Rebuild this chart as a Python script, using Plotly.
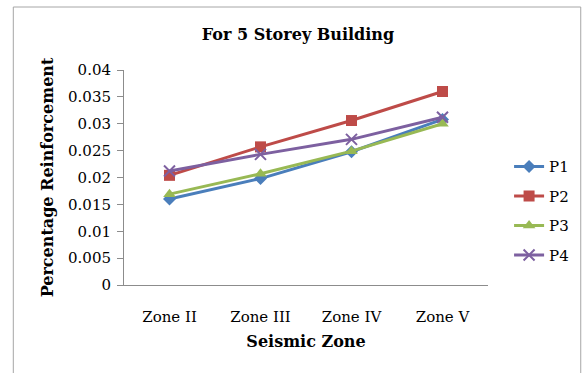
import plotly.graph_objects as go

zones = ["Zone II", "Zone III", "Zone IV", "Zone V"]
p1 = [0.0160, 0.0198, 0.0248, 0.0308]
p2 = [0.0204, 0.0257, 0.0306, 0.0360]
p3 = [0.0169, 0.0207, 0.0249, 0.0300]
p4 = [0.0212, 0.0243, 0.0271, 0.0312]
y_ticks = [0, 0.005, 0.01, 0.015, 0.02, 0.025, 0.03, 0.035, 0.04]
y_tick_text = ["0", "0.005", "0.01", "0.015", "0.02", "0.025", "0.03", "0.035", "0.04"]

series = [
    ("P1", p1, "#4A7EBB", "diamond", 10),
    ("P2", p2, "#BE4B48", "square", 11),
    ("P3", p3, "#98B954", "triangle-up", 11),
    ("P4", p4, "#7D60A0", "x-thin", 11),
]

SERIF = "DejaVu Serif"

fig = go.Figure()
for i, (name, vals, color, sym, size) in enumerate(series):
    marker = dict(symbol=sym, size=size, color=color)
    if sym == "x-thin":
        marker["line"] = dict(color=color, width=2)
    fig.add_trace(go.Scatter(
        x=zones, y=vals, name=name, mode="lines+markers",
        line=dict(color=color, width=3), marker=marker,
        legendgroup=f"g{i}",
    ))

fig.update_layout(
    width=585, height=373,
    margin=dict(l=124, r=96, t=70, b=88),
    paper_bgcolor="white", plot_bgcolor="white",
    showlegend=True,
    legend=dict(
        x=1.055, y=0.345, xanchor="left", yanchor="middle",
        font=dict(family=SERIF, size=15, color="black"),
        tracegroupgap=7, itemwidth=30,
        bgcolor="rgba(0,0,0,0)",
    ),
    title=dict(
        text="<b>For 5 Storey Building</b>",
        font=dict(family=SERIF, size=16, color="black"),
        x=298 / 585, xanchor="center",
        y=1 - 34 / 373, yanchor="middle",
    ),
    xaxis=dict(
        type="category", range=[-0.5, 3.5],
        showline=True, linecolor="#8c8c8c", linewidth=1,
        showgrid=False, ticks="", zeroline=False,
        tickfont=dict(family=SERIF, size=15, color="black"),
        ticklabelstandoff=18,
        title=dict(text="<b>Seismic Zone</b>",
                   font=dict(family=SERIF, size=16, color="black"),
                   standoff=10),
    ),
    yaxis=dict(
        range=[0, 0.04], tickvals=y_ticks, ticktext=y_tick_text,
        showline=True, linecolor="#8c8c8c", linewidth=1,
        showgrid=False, ticks="outside", ticklen=6, tickcolor="#8c8c8c",
        zeroline=False, ticklabelstandoff=3,
        tickfont=dict(family=SERIF, size=15, color="black"),
        title=dict(text="<b>Percentage Reinforcement</b>",
                   font=dict(family=SERIF, size=16, color="black"),
                   standoff=10),
    ),
)

# outer chart frame
fig.add_shape(
    type="rect", xref="paper", yref="paper",
    x0=(13 - 124) / 365, x1=(582 - 124) / 365,
    y0=-0.6, y1=(285 - 7) / 215,
    line=dict(color="#a6a6a6", width=1), fillcolor="rgba(0,0,0,0)",
    layer="below",
)

fig.write_html("out.html")
